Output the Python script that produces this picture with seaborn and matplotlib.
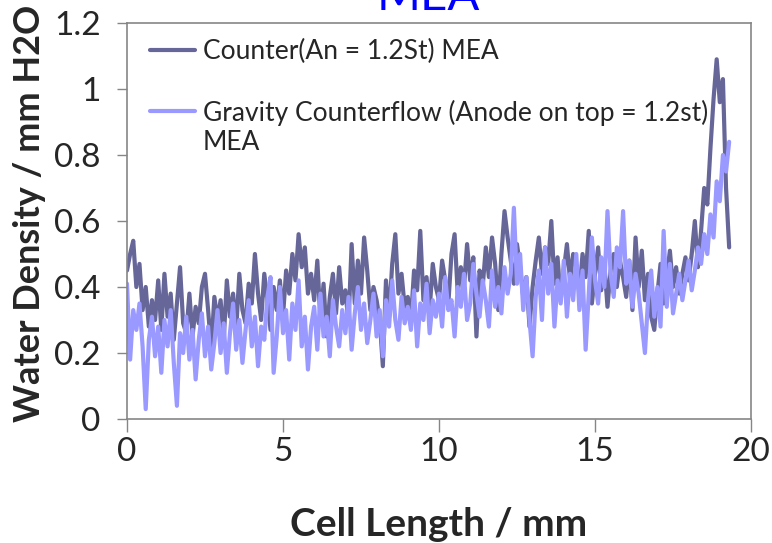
import numpy as np
import pandas as pd
import matplotlib
matplotlib.use("Agg")
import matplotlib.pyplot as plt
import seaborn as sns

# ---- data (0.1 mm sampling) ----
counter_vals = [
    0.45, 0.50, 0.54, 0.40, 0.47, 0.33, 0.40, 0.28, 0.36, 0.30,
    0.42, 0.27, 0.44, 0.31, 0.38, 0.24, 0.35, 0.46, 0.29, 0.26,
    0.38, 0.25, 0.34, 0.29, 0.40, 0.44, 0.33, 0.21, 0.37, 0.30,
    0.36, 0.24, 0.42, 0.31, 0.38, 0.27, 0.44, 0.33, 0.29, 0.41,
    0.35, 0.50, 0.38, 0.30, 0.44, 0.36, 0.27, 0.40, 0.33, 0.42,
    0.31, 0.45, 0.38, 0.50, 0.42, 0.56, 0.46, 0.52, 0.38, 0.44,
    0.36, 0.48, 0.30, 0.41, 0.25, 0.37, 0.44, 0.32, 0.46, 0.35,
    0.39, 0.29, 0.53, 0.35, 0.48, 0.38, 0.55, 0.45, 0.33, 0.40,
    0.36, 0.30, 0.16, 0.42, 0.31, 0.47, 0.56, 0.38, 0.44, 0.34,
    0.37, 0.30, 0.45, 0.39, 0.57, 0.36, 0.43, 0.33, 0.47, 0.40,
    0.36, 0.48, 0.42, 0.35, 0.50, 0.56, 0.38, 0.46, 0.40, 0.53,
    0.42, 0.49, 0.25, 0.45, 0.40, 0.52, 0.43, 0.55, 0.47, 0.33,
    0.50, 0.63, 0.55, 0.48, 0.41, 0.53, 0.46, 0.37, 0.43, 0.28,
    0.40, 0.48, 0.55, 0.44, 0.52, 0.47, 0.60, 0.41, 0.49, 0.36,
    0.45, 0.53, 0.42, 0.50, 0.46, 0.38, 0.50, 0.43, 0.57, 0.35,
    0.44, 0.52, 0.39, 0.47, 0.34, 0.45, 0.50, 0.40, 0.48, 0.43,
    0.37, 0.48, 0.33, 0.55, 0.40, 0.51, 0.36, 0.44, 0.31, 0.27,
    0.38, 0.47, 0.35, 0.43, 0.51, 0.40, 0.46, 0.38, 0.44, 0.49,
    0.42, 0.50, 0.60, 0.46, 0.57, 0.70, 0.65, 0.82, 0.97, 1.09,
    0.96, 1.03, 0.70, 0.52,
]
gravity_vals = [
    0.41, 0.18, 0.33, 0.27, 0.35, 0.22, 0.03, 0.24, 0.31, 0.19,
    0.28, 0.14, 0.30, 0.22, 0.33, 0.17, 0.04, 0.26, 0.20, 0.31,
    0.18, 0.27, 0.12, 0.24, 0.32, 0.19, 0.28, 0.15, 0.23, 0.33,
    0.20, 0.29, 0.14, 0.26, 0.35, 0.21, 0.30, 0.17, 0.27, 0.36,
    0.22, 0.31, 0.16, 0.28, 0.24, 0.37, 0.43, 0.14, 0.25, 0.40,
    0.26, 0.33, 0.18, 0.35, 0.27, 0.42, 0.22, 0.31, 0.15, 0.28,
    0.34, 0.21, 0.38, 0.25, 0.31, 0.19, 0.36, 0.28, 0.22, 0.33,
    0.26, 0.37, 0.21, 0.32, 0.40, 0.27, 0.35, 0.23, 0.30, 0.38,
    0.25, 0.33, 0.19, 0.36, 0.28, 0.42, 0.30, 0.24, 0.37, 0.29,
    0.34, 0.27, 0.39, 0.22, 0.35, 0.30, 0.41, 0.26, 0.36, 0.31,
    0.38, 0.28, 0.43, 0.33, 0.36, 0.25, 0.40, 0.34, 0.44, 0.30,
    0.35, 0.47, 0.38, 0.31, 0.42, 0.36, 0.28, 0.45, 0.34, 0.40,
    0.32, 0.46, 0.38, 0.44, 0.64, 0.41, 0.50, 0.33, 0.43, 0.30,
    0.19, 0.37, 0.45, 0.30, 0.52, 0.38, 0.47, 0.28, 0.42, 0.35,
    0.48, 0.31, 0.44, 0.36, 0.50, 0.33, 0.45, 0.21, 0.38, 0.55,
    0.42, 0.35, 0.49, 0.40, 0.63, 0.44, 0.37, 0.52, 0.46, 0.63,
    0.41, 0.48, 0.34, 0.44, 0.38, 0.29, 0.20, 0.36, 0.45, 0.31,
    0.40, 0.28, 0.57, 0.34, 0.47, 0.32, 0.38, 0.44, 0.36, 0.42,
    0.48, 0.39, 0.45, 0.52, 0.47, 0.56, 0.50, 0.62, 0.55, 0.72,
    0.66, 0.80, 0.75, 0.84,
]
cell_length = np.linspace(0.0, 19.3, len(counter_vals))

series_names = [
    "Counter(An = 1.2St) MEA",
    "Gravity Counterflow (Anode on top = 1.2st)\nMEA",
]
x_ticks = [0, 5, 10, 15, 20]
y_ticks = [0, 0.2, 0.4, 0.6, 0.8, 1, 1.2]
y_tick_labels = ["0", "0.2", "0.4", "0.6", "0.8", "1", "1.2"]

df = pd.DataFrame({
    "x": np.concatenate([cell_length, cell_length]),
    "y": np.concatenate([counter_vals, gravity_vals]),
    "series": [series_names[0]] * len(counter_vals) + [series_names[1]] * len(gravity_vals),
})

sns.set_theme(style="white")
plt.rcParams["font.family"] = ["Lato", "DejaVu Sans"]

fig = plt.figure(figsize=(7.72, 5.43), dpi=100)
ax = fig.add_axes([127 / 772, 1 - 419 / 543, 624 / 772, 396 / 543])

palette = {series_names[0]: "#666699", series_names[1]: "#9999FF"}
sns.lineplot(data=df, x="x", y="y", hue="series", palette=palette,
             hue_order=series_names, linewidth=3.0, ax=ax, legend=True,
             estimator=None, sort=False)

ax.set_xlim(0, 20)
ax.set_ylim(0, 1.2)
ax.set_xticks(x_ticks)
ax.set_xticklabels([str(t) for t in x_ticks])
ax.set_yticks(y_ticks)
ax.set_yticklabels(y_tick_labels)

for s in ax.spines.values():
    s.set_color("#868686")
    s.set_linewidth(1.2)
ax.tick_params(axis="x", direction="out", length=9, width=1, color="#868686",
               labelsize=24, pad=4, bottom=True)
ax.tick_params(axis="y", direction="out", length=7, width=1, color="#868686",
               labelsize=24, pad=12, left=True)

ax.set_xlabel("Cell Length / mm", fontsize=28, fontweight="bold", labelpad=29)
ax.set_ylabel("Water Density / mm H2O", fontsize=26, fontweight="bold")
ax.yaxis.set_label_coords(-0.13, 0.52)

handles, labels = ax.get_legend_handles_labels()
leg = ax.legend(handles, labels, loc="upper left", bbox_to_anchor=(0.037, 0.96),
                frameon=False, fontsize=19, handlelength=1.7, handletextpad=0.3,
                labelspacing=1.35, borderpad=0, borderaxespad=0)
for i, line in enumerate(leg.get_lines()):
    line.set_linewidth(3.0)
    if i == 1:
        # put the handle beside the first line of the two-line label
        line.set_ydata(np.asarray(line.get_ydata()) + 12)

fig.text(0.555, 1 - 10 / 543, "MEA", color="#0000FF", fontsize=34,
         ha="center", va="baseline")

fig.savefig("out.png", dpi=100)
